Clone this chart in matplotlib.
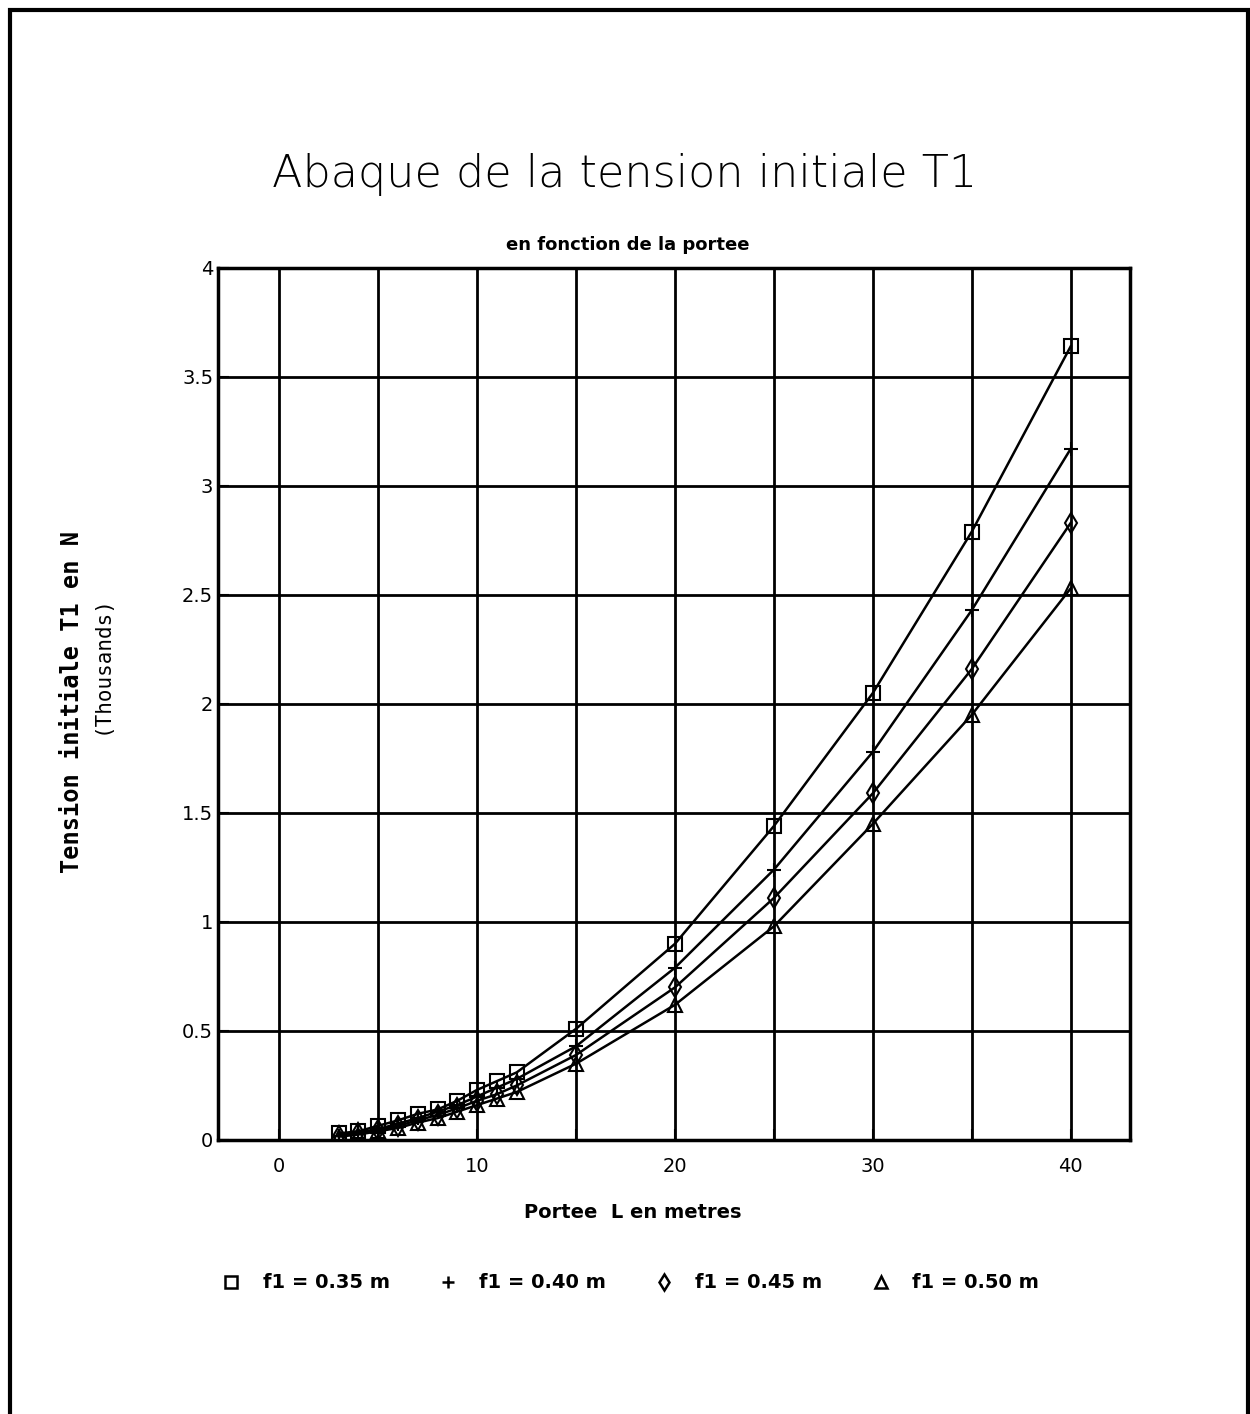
import numpy as np
import matplotlib
matplotlib.use("Agg")
import matplotlib.pyplot as plt
from matplotlib.patches import Rectangle
from matplotlib.lines import Line2D

# Portee L (m)
portee = [3, 4, 5, 6, 7, 8, 9, 10, 11, 12, 15, 20, 25, 30, 35, 40]

# Tension initiale T1 (milliers de N)
t_035 = [0.03, 0.04, 0.065, 0.09, 0.12, 0.14, 0.18, 0.23, 0.27, 0.31, 0.51, 0.90, 1.44, 2.05, 2.79, 3.64]
t_040 = [0.02, 0.035, 0.05, 0.075, 0.10, 0.13, 0.16, 0.20, 0.24, 0.28, 0.43, 0.79, 1.24, 1.78, 2.43, 3.17]
t_045 = [0.02, 0.03, 0.045, 0.065, 0.09, 0.115, 0.145, 0.18, 0.21, 0.25, 0.39, 0.70, 1.11, 1.59, 2.16, 2.83]
t_050 = [0.015, 0.025, 0.04, 0.055, 0.08, 0.10, 0.13, 0.16, 0.19, 0.22, 0.35, 0.62, 0.98, 1.45, 1.95, 2.53]

labels = ["f1 = 0.35 m", "f1 = 0.40 m", "f1 = 0.45 m", "f1 = 0.50 m"]
markers = ["s", "+", "d", "^"]

fig = plt.figure(figsize=(12.5, 14.14), dpi=100)
fig.patches.append(Rectangle((0.008, -0.01), 0.99, 1.003, transform=fig.transFigure,
                             fill=False, lw=3, edgecolor="black"))

ax = fig.add_axes([0.1744, 0.1938, 0.7296, 0.6167])

series = [t_035, t_040, t_045, t_050]
for s, m in zip(series, markers):
    ax.plot(portee, s, color="black", lw=1.8, marker=m, markersize=10,
            fillstyle="none", markeredgewidth=1.5)

ax.set_xlim(-3.1, 43)
ax.set_ylim(0, 4)
ax.set_xticks([0, 10, 20, 30, 40])
ax.set_xticks(np.arange(0, 41, 5), minor=True)
ax.set_yticks(np.arange(0, 4.01, 0.5))
ax.set_yticklabels(["0", "0.5", "1", "1.5", "2", "2.5", "3", "3.5", "4"])
ax.grid(True, which="both", axis="x", color="black", lw=2)
ax.grid(True, which="major", axis="y", color="black", lw=2)
ax.tick_params(axis="both", which="both", direction="in", length=8, width=1.5, labelsize=14)
ax.tick_params(axis="x", pad=12)
for t in ax.get_xticklabels() + ax.get_yticklabels():
    t.set_fontweight("medium")
for sp in ax.spines.values():
    sp.set_linewidth(2.5)

fig.text(0.5, 1 - 175 / 1414, "Abaque de la tension initiale T1", ha="center", va="center",
         fontsize=32, fontweight="light")
fig.text(0.502, 1 - 245 / 1414, "en fonction de la portee", ha="center", va="center",
         fontsize=13, fontweight="bold")
fig.text(0.506, 1 - 1213 / 1414, "Portee  L en metres", ha="center", va="center",
         fontsize=14, fontweight="bold")
fig.text(72 / 1250, 1 - 702 / 1414, "Tension initiale T1 en N", rotation=90, ha="center",
         va="center", fontsize=17, family="DejaVu Sans Mono", fontweight="bold")
fig.text(102 / 1250, 1 - 665 / 1414, "(Thousands)", rotation=90, ha="center",
         va="center", fontsize=15, family="DejaVu Sans Mono")

handles = [Line2D([], [], color="black", marker=m, linestyle="none", markersize=8,
                  fillstyle="none", markeredgewidth=1.8) for m in markers]
fig.legend(handles, labels, loc="center", bbox_to_anchor=(0.505, 1 - 1283 / 1414), ncol=4,
           frameon=False, prop={"size": 14, "weight": "bold"}, handlelength=0.8,
           columnspacing=2.6, handletextpad=1.2)

fig.savefig("out.png", dpi=100)
